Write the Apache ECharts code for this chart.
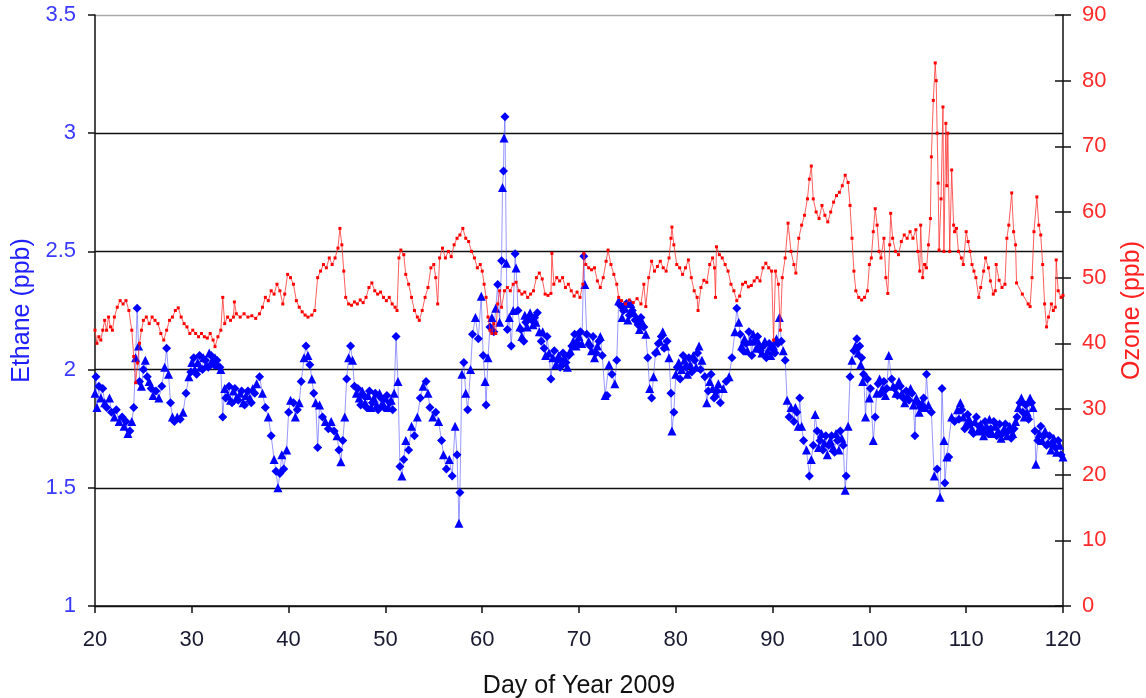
<!DOCTYPE html>
<html>
<head>
<meta charset="utf-8">
<script src="https://cdn.jsdelivr.net/npm/echarts@6/dist/echarts.min.js"></script>
<style>html,body{margin:0;padding:0;background:#fff}#c{width:1146px;height:698px}</style>
</head>
<body>
<div id="c"></div>
<script>
const xTicks = {min: 20, max: 120, interval: 10};
const ethaneTicks = {min: 1, max: 3.5, interval: 0.5};
const ozoneTicks = {min: 0, max: 90, interval: 10};

const ethane = [
[20.0,1.90],[20.1,1.97],[20.2,1.84],[20.4,1.93],[20.6,1.88],[20.8,1.92],[21.0,1.86],[21.2,1.84],[21.5,1.88],[21.7,1.82],
[22.0,1.80],[22.2,1.83],[22.5,1.78],[22.8,1.80],[23.0,1.76],[23.2,1.78],[23.4,1.73],[23.6,1.74],[23.8,1.78],[24.0,1.84],
[24.2,2.05],[24.35,2.26],[24.5,2.10],[24.6,1.95],[24.8,1.93],[25.0,2.00],[25.2,2.04],[25.4,1.97],[25.6,1.95],[25.8,1.92],
[26.0,1.89],[26.3,1.91],[26.6,1.88],[26.9,1.93],[27.2,2.01],[27.4,2.09],[27.6,1.98],[27.8,1.86],[28.0,1.80],[28.2,1.78],
[28.5,1.80],[28.8,1.79],[29.1,1.82],[29.4,1.90],[29.7,1.97],[30.0,2.03],[30.3,2.00],[30.6,2.03],[30.9,2.01],[31.2,2.05],
[31.5,2.02],[31.8,2.07],[32.1,2.04],[32.4,2.05],[32.7,2.02],[33.0,2.00],[33.2,1.80],[33.4,1.92],[33.7,1.89],[34.0,1.87],
[34.3,1.91],[34.6,1.88],[35.0,1.90],[35.3,1.86],[35.6,1.89],[36.0,1.88],[36.3,1.92],[36.7,1.94],[37.0,1.97],[37.3,1.90],
[37.6,1.84],[37.9,1.80],[38.2,1.72],[38.5,1.62],[38.7,1.57],[38.9,1.50],[39.1,1.56],[39.3,1.64],[39.5,1.58],[39.8,1.66],
[40.0,1.82],[40.2,1.87],[40.5,1.86],[40.7,1.80],[40.9,1.83],[41.1,1.86],[41.3,1.95],[41.6,2.05],[41.8,2.10],[42.0,2.06],
[42.2,2.02],[42.4,1.96],[42.6,1.90],[42.8,1.86],[43.0,1.67],[43.2,1.85],[43.5,1.80],[43.8,1.78],[44.1,1.75],[44.4,1.78],
[44.7,1.74],[45.0,1.72],[45.2,1.66],[45.4,1.61],[45.6,1.70],[45.8,1.80],[46.0,1.96],[46.2,2.05],[46.4,2.10],[46.6,2.04],
[46.8,1.93],[47.0,1.90],[47.3,1.88],[47.6,1.91],[47.9,1.86],[48.2,1.89],[48.5,1.84],[48.8,1.88],[49.1,1.85],[49.4,1.90],
[49.7,1.86],[50.0,1.88],[50.3,1.84],[50.6,1.87],[50.9,1.90],[51.1,2.14],[51.3,1.95],[51.5,1.59],[51.7,1.55],[51.9,1.62],
[52.1,1.70],[52.4,1.66],[52.7,1.76],[53.0,1.72],[53.3,1.80],[53.6,1.88],[53.9,1.93],[54.2,1.95],[54.4,1.90],[54.6,1.84],
[54.9,1.80],[55.2,1.82],[55.5,1.78],[55.8,1.70],[56.0,1.64],[56.3,1.58],[56.6,1.62],[56.9,1.55],[57.2,1.76],[57.4,1.64],
[57.6,1.35],[57.7,1.48],[57.9,1.98],[58.1,2.03],[58.3,1.90],[58.5,1.83],[58.8,2.00],[59.0,2.15],[59.3,2.22],[59.6,2.13],
[59.9,2.31],[60.1,2.06],[60.3,1.95],[60.4,1.85],[60.6,2.05],[60.8,2.18],[61.0,2.22],[61.2,2.16],[61.4,2.26],[61.6,2.36],
[61.8,2.20],[62.0,2.46],[62.1,2.77],[62.2,2.84],[62.25,2.98],[62.35,3.07],[62.5,2.45],[62.6,2.17],[62.8,2.22],[63.0,2.10],
[63.2,2.25],[63.4,2.49],[63.5,2.43],[63.7,2.25],[63.9,2.18],[64.1,2.14],[64.3,2.12],[64.5,2.20],[64.8,2.22],[65.1,2.21],
[65.4,2.22],[65.7,2.24],[65.9,2.16],[66.1,2.12],[66.4,2.09],[66.7,2.14],[66.9,2.07],[67.1,1.96],[67.3,2.05],[67.6,2.02],
[67.9,2.06],[68.2,2.03],[68.5,2.05],[68.8,2.01],[69.1,2.08],[69.4,2.12],[69.7,2.10],[70.0,2.14],[70.3,2.11],[70.5,2.48],
[70.6,2.36],[70.8,2.15],[71.0,2.12],[71.3,2.08],[71.6,2.05],[71.9,2.10],[72.2,2.14],[72.4,2.06],[72.7,1.89],[72.9,1.89],
[73.1,2.02],[73.4,1.98],[73.7,1.94],[73.9,2.04],[74.1,2.29],[74.3,2.27],[74.6,2.25],[74.9,2.28],[75.2,2.23],[75.5,2.25],
[75.8,2.21],[76.1,2.19],[76.4,2.22],[76.7,2.18],[76.9,2.15],[77.1,2.05],[77.3,1.92],[77.5,1.88],[77.7,1.97],[77.9,2.07],
[78.2,2.11],[78.5,2.14],[78.8,2.09],[79.1,2.12],[79.3,2.05],[79.5,1.90],[79.6,1.74],[79.8,1.82],[80.0,1.98],[80.3,2.03],
[80.6,2.00],[80.9,2.04],[81.2,1.98],[81.5,2.02],[81.8,2.06],[82.1,2.01],[82.4,2.10],[82.7,2.04],[83.0,1.97],[83.2,1.86],
[83.5,1.95],[83.8,1.92],[84.1,1.90],[84.4,1.94],[84.6,1.86],[84.9,1.92],[85.2,1.95],[85.5,1.97],[85.8,2.05],[86.1,2.16],
[86.3,2.26],[86.5,2.20],[86.8,2.10],[87.1,2.13],[87.4,2.08],[87.7,2.12],[88.0,2.15],[88.3,2.09],[88.6,2.11],[88.9,2.07],
[89.2,2.12],[89.5,2.08],[89.8,2.06],[90.1,2.10],[90.4,2.13],[90.7,2.22],[90.9,2.12],[91.1,2.08],[91.3,2.04],[91.5,1.87],
[91.7,1.80],[91.9,1.84],[92.2,1.78],[92.5,1.82],[92.8,1.88],[93.0,1.76],[93.2,1.70],[93.5,1.66],[93.8,1.55],[94.0,1.62],
[94.2,1.68],[94.4,1.81],[94.6,1.74],[94.9,1.70],[95.2,1.66],[95.5,1.72],[95.8,1.68],[96.1,1.72],[96.4,1.65],[96.7,1.70],
[97.0,1.74],[97.3,1.68],[97.5,1.49],[97.6,1.55],[97.8,1.76],[98.0,1.97],[98.2,2.04],[98.4,2.08],[98.7,2.13],[99.0,2.10],
[99.2,2.05],[99.4,1.98],[99.6,1.80],[99.8,1.96],[100.1,1.92],[100.4,1.70],[100.6,1.80],[100.9,1.94],[101.2,1.90],[101.5,1.95],
[101.8,1.92],[102.0,2.06],[102.3,1.96],[102.6,1.92],[102.9,1.89],[103.2,1.93],[103.5,1.88],[103.8,1.91],[104.1,1.87],[104.4,1.90],
[104.7,1.72],[105.0,1.86],[105.3,1.84],[105.6,1.88],[105.9,1.98],[106.1,1.85],[106.4,1.82],[106.7,1.55],[107.0,1.58],[107.3,1.46],
[107.5,1.92],[107.7,1.70],[107.8,1.52],[108.0,1.63],[108.2,1.63],[108.5,1.80],[108.8,1.78],[109.1,1.83],[109.4,1.86],[109.7,1.80],
[110.0,1.77],[110.3,1.79],[110.6,1.75],[110.9,1.78],[111.2,1.74],[111.5,1.77],[111.8,1.72],[112.1,1.76],[112.4,1.79],[112.7,1.73],
[113.0,1.76],[113.3,1.74],[113.6,1.71],[113.9,1.75],[114.2,1.72],[114.5,1.76],[114.8,1.73],[115.1,1.78],[115.4,1.84],[115.7,1.88],
[116.0,1.80],[116.3,1.82],[116.6,1.88],[116.9,1.84],[117.1,1.74],[117.2,1.60],[117.4,1.70],[117.7,1.76],[118.0,1.72],[118.3,1.68],
[118.6,1.72],[118.9,1.69],[119.2,1.67],[119.5,1.70],[119.8,1.64],[120.0,1.63]
];

const ethaneExtra = [
[29.9,1.99],[30.2,2.05],[30.5,1.98],[30.8,2.06],[31.1,2.00],[31.4,2.04],[31.7,2.01],[32.0,2.06],[32.3,2.02],[32.6,2.04],[32.9,2.01],
[33.5,1.88],[33.85,1.93],[34.15,1.86],[34.45,1.92],[34.8,1.87],[35.15,1.91],[35.45,1.85],[35.8,1.91],[36.15,1.86],[36.5,1.90],
[47.15,1.92],[47.45,1.85],[47.75,1.89],[48.05,1.84],[48.35,1.91],[48.65,1.86],[48.95,1.90],[49.25,1.83],[49.55,1.88],[49.85,1.84],
[50.15,1.89],[50.45,1.86],[50.75,1.83],
[64.0,2.17],[64.4,2.23],[64.65,2.18],[64.95,2.24],[65.25,2.19],[65.55,2.20],[66.25,2.16],[66.55,2.06],[67.45,2.08],[67.75,2.04],
[68.05,2.01],[68.35,2.07],[68.65,2.03],[68.95,2.06],[69.25,2.10],[69.55,2.15],[69.85,2.11],[70.15,2.16],
[71.15,2.10],[71.45,2.14],[71.75,2.07],[72.05,2.12],
[74.45,2.22],[74.75,2.26],[75.05,2.21],[75.35,2.28],[75.65,2.24],[75.95,2.22],[76.25,2.17],[76.55,2.20],
[78.05,2.08],[78.35,2.12],[78.65,2.16],[78.95,2.10],
[80.15,2.01],[80.45,1.96],[80.75,2.06],[81.05,2.01],[81.35,2.05],[81.65,1.99],[81.95,2.04],[82.25,2.07],[82.55,2.00],
[83.35,1.91],[83.65,1.98],[83.95,1.88],[84.25,1.91],
[86.65,2.15],[86.95,2.08],[87.25,2.11],[87.55,2.16],[87.85,2.06],[88.15,2.12],[88.45,2.14],[88.75,2.08],[89.05,2.10],[89.35,2.05],
[89.65,2.11],[89.95,2.09],[90.25,2.07],[90.55,2.11],
[92.35,1.84],[92.65,1.76],[94.75,1.67],[95.05,1.73],[95.35,1.69],[95.65,1.64],[95.95,1.70],[96.25,1.67],[96.55,1.73],[96.85,1.66],[97.15,1.71],
[98.55,2.10],[98.85,2.07],[99.1,2.02],[99.3,1.95],[100.0,1.88],[100.75,1.90],[101.05,1.96],[101.35,1.92],[101.65,1.89],
[102.45,1.93],[102.75,1.90],[103.05,1.95],[103.35,1.90],[103.65,1.86],[103.95,1.89],[104.25,1.92],[104.55,1.85],[104.85,1.88],
[105.15,1.82],[105.45,1.86],[105.75,1.84],
[109.25,1.79],[109.55,1.83],[109.85,1.75],[110.15,1.81],[110.45,1.77],[110.75,1.73],[111.05,1.80],[111.35,1.76],[111.65,1.74],
[111.95,1.78],[112.25,1.73],[112.55,1.75],[112.85,1.78],[113.15,1.72],[113.45,1.77],[113.75,1.73],[114.05,1.77],[114.35,1.74],
[114.65,1.71],[114.95,1.75],
[115.25,1.80],[115.55,1.86],[115.85,1.82],[116.15,1.85],[116.45,1.79],[116.75,1.86],[117.55,1.73],[117.85,1.70],[118.15,1.74],
[118.45,1.69],[118.75,1.66],[119.05,1.71],[119.35,1.65],[119.65,1.68]
];

const ozone = [
[20.0,42],[20.2,40],[20.4,41],[20.6,40.5],[20.8,42],[21.0,43.5],[21.2,42],[21.4,44],[21.6,42.5],[21.8,42],
[22.0,44],[22.3,45.5],[22.6,46.5],[22.9,46],[23.2,46.5],[23.5,45],[23.8,42],[24.0,38],[24.2,34],[24.4,37],
[24.6,40],[24.8,42],[25.0,43.5],[25.3,44],[25.6,43],[25.9,44],[26.2,43.5],[26.5,43],[26.8,41.5],[27.1,40.5],
[27.4,42],[27.7,43.5],[28.0,44],[28.3,45],[28.6,45.4],[28.9,44],[29.2,43],[29.5,42.5],[29.8,41.5],[30.1,42],
[30.4,41.5],[30.7,41],[31.0,41.5],[31.3,41],[31.6,40.8],[31.9,41.5],[32.2,40.5],[32.4,39.5],[32.7,41],[33.0,42],
[33.2,47],[33.4,43],[33.7,44],[34.0,43.5],[34.3,44],[34.4,46.3],[34.6,44.5],[35.0,44],[35.4,44.5],[35.8,44],
[36.2,44.2],[36.6,43.8],[37.0,44.5],[37.3,45.5],[37.6,47],[37.9,46.5],[38.2,48],[38.5,47.5],[38.8,49],[39.1,48],
[39.4,46],[39.6,47.5],[39.9,50.5],[40.2,50],[40.5,49],[40.8,46.5],[41.1,45.5],[41.4,44.8],[41.7,44.3],[42.0,44],
[42.4,44.3],[42.7,45],[43.0,50],[43.3,51],[43.6,52],[43.9,51.5],[44.2,53],[44.5,52],[44.8,53],[45.1,54.5],
[45.3,57.5],[45.5,55],[45.7,51],[45.9,47],[46.2,46],[46.5,45.8],[46.8,46.3],[47.1,46],[47.4,46.6],[47.7,46.2],
[48.0,47],[48.3,48.5],[48.6,49.2],[48.9,48],[49.2,47.5],[49.5,47.8],[49.8,47],[50.1,46.5],[50.4,47],[50.7,46],
[51.0,45.5],[51.2,45],[51.4,53],[51.6,54.2],[51.9,53.5],[52.1,50.5],[52.4,49],[52.7,47],[53.0,45],[53.3,44],
[53.5,43.5],[53.8,45],[54.1,47],[54.4,48.5],[54.7,51.5],[55.0,52],[55.2,50],[55.4,46],[55.6,53],[55.9,54.5],
[56.2,53],[56.5,54],[56.8,53.2],[57.1,55],[57.4,56],[57.7,56.5],[58.0,57.5],[58.3,56],[58.6,55.5],[58.9,54],
[59.2,53],[59.5,51.5],[59.8,52],[60.0,51],[60.2,49],[60.4,47],[60.6,44],[60.8,42],[61.0,41.5],[61.2,43],
[61.4,41.5],[61.6,46],[61.8,48],[62.0,45.5],[62.3,48],[62.6,48.5],[62.9,48],[63.2,49],[63.5,49.3],[63.8,48],
[64.1,47.5],[64.4,47.8],[64.7,47],[65.0,47.5],[65.3,48],[65.6,50],[65.9,50.7],[66.2,49.8],[66.5,47.5],[66.8,47.3],
[67.1,47.6],[67.2,53.7],[67.4,49],[67.7,50],[68.0,49.5],[68.3,50],[68.6,48.5],[68.9,49],[69.2,48],[69.5,47.2],
[69.8,47.8],[70.1,47],[70.4,49],[70.5,53.7],[70.7,52],[71.0,51.5],[71.3,51.2],[71.6,51.5],[71.9,49.5],[72.2,48.5],
[72.5,50],[72.8,52.5],[73.0,54.2],[73.3,52],[73.6,50.5],[73.9,49],[74.1,47],[74.4,46.5],[74.8,46],[75.2,46.6],
[75.6,46.2],[76.0,46.8],[76.4,46],[76.7,49],[76.9,45.6],[77.2,50],[77.5,52.5],[77.8,51],[78.1,51.7],[78.4,52.5],
[78.7,51.5],[79.0,51],[79.3,53],[79.5,56],[79.6,57.7],[79.8,55],[80.1,52],[80.4,51.5],[80.7,50.5],[81.0,51.5],
[81.3,52.7],[81.6,50],[81.9,48],[82.2,47],[82.3,45],[82.6,48.5],[82.9,49.6],[83.2,49.3],[83.5,52],[83.8,53],
[84.0,51.5],[84.1,47],[84.2,54.7],[84.5,53.5],[84.8,53],[85.1,52],[85.4,51],[85.7,49],[86.0,48],[86.3,46.5],
[86.6,47.2],[86.9,49],[87.2,49.3],[87.5,48.6],[87.8,48.8],[88.1,49.5],[88.4,50],[88.7,49.5],[89.0,51.5],[89.3,52.2],
[89.6,51.5],[89.9,51],[90.1,40.5],[90.3,51],[90.6,49],[90.8,42],[91.0,50],[91.3,53],[91.6,58.3],[91.9,54],
[92.2,52],[92.4,50.7],[92.7,56],[93.0,58],[93.3,59.5],[93.6,62],[93.8,65],[94.0,67],[94.2,62],[94.5,60],
[94.8,59],[95.1,61],[95.4,59.5],[95.7,58.5],[96.0,60],[96.3,61.5],[96.6,62.5],[96.9,63],[97.2,64],[97.5,65.6],
[97.8,64.5],[98.0,61],[98.2,56],[98.4,51],[98.6,48],[98.9,47],[99.2,46.6],[99.5,47],[99.8,48],[100.0,52],
[100.2,53],[100.4,57],[100.6,60.5],[100.8,58],[101.0,54],[101.2,53],[101.5,56],[101.7,50],[101.9,47.6],[102.1,55],
[102.2,59.8],[102.4,56],[102.7,54],[103.0,53.5],[103.3,55.5],[103.6,56.5],[103.9,56],[104.2,57],[104.5,56],[104.8,57.3],
[105.0,54],[105.2,51],[105.3,58],[105.5,50],[105.7,52],[105.9,51.5],[106.1,55],[106.3,59],[106.4,68.4],[106.6,77],
[106.8,82.7],[106.9,80],[107.0,72],[107.1,64.4],[107.2,54.2],[107.4,62],[107.6,76],[107.7,54],[107.9,73.5],[108.0,64],
[108.1,72],[108.3,54],[108.5,66.4],[108.7,58],[108.8,57],[109.0,57.5],[109.2,54],[109.5,53],[109.7,52],[110.0,57],
[110.2,55.5],[110.4,54],[110.6,52],[110.8,51],[111.0,50],[111.3,47],[111.5,48.5],[111.8,51],[112.0,53],[112.3,51.5],
[112.5,49.5],[112.8,47.5],[113.0,48],[113.1,52],[113.4,49.6],[113.7,48.5],[114.0,49],[114.2,56],[114.4,58],[114.7,62.9],
[114.9,57],[115.1,55],[115.2,49.2],[115.8,47.5],[116.4,46],[116.6,45.6],[116.8,50],[117.0,57],[117.3,62.3],[117.5,58],
[117.7,56.5],[117.9,52],[118.1,46],[118.3,42.5],[118.5,44],[118.8,46],[119.0,45],[119.2,45.5],[119.3,52.7],[119.5,48],
[119.8,47],[120.0,47.3]
];

const ethaneAll = ethane.concat(ethaneExtra).sort(function (a, b) { return a[0] - b[0]; });

const FONT = '"Liberation Sans", Arial, sans-serif';
const chart = echarts.init(document.getElementById('c'), null, {renderer: 'canvas'});
chart.setOption({
  animation: false,
  backgroundColor: '#ffffff',
  grid: {left: 95, right: 83, top: 15, bottom: 92, containLabel: false, outerBoundsMode: 'none'},
  xAxis: {
    type: 'value', min: xTicks.min, max: xTicks.max, interval: xTicks.interval,
    name: 'Day of Year 2009', nameLocation: 'middle', nameGap: 68,
    nameTextStyle: {color: '#111111', fontSize: 25, fontFamily: FONT},
    axisLine: {show: true, onZero: false, lineStyle: {color: '#111111', width: 1.5}},
    axisTick: {show: true, inside: false, length: 7, lineStyle: {color: '#111111', width: 1.5}},
    axisLabel: {color: '#1a1a33', fontSize: 22, fontFamily: FONT, margin: 23},
    splitLine: {show: false}
  },
  yAxis: [
    {
      type: 'value', position: 'left', min: ethaneTicks.min, max: ethaneTicks.max, interval: ethaneTicks.interval,
      name: 'Ethane (ppb)', nameLocation: 'middle', nameGap: 60,
      nameTextStyle: {color: '#2020ff', fontSize: 25, fontFamily: FONT},
      axisLine: {show: true, lineStyle: {color: '#111111', width: 1.5}},
      axisTick: {show: true, inside: false, length: 7, lineStyle: {color: '#111111', width: 1.5}},
      axisLabel: {color: '#3a3aff', fontSize: 22, fontFamily: FONT, margin: 19},
      splitLine: {show: true, lineStyle: {color: ['#111111','#111111','#111111','#111111','#111111','#aaaaaa'], width: 1.3}}
    },
    {
      type: 'value', position: 'right', min: ozoneTicks.min, max: ozoneTicks.max, interval: ozoneTicks.interval,
      name: 'Ozone (ppb)', nameLocation: 'middle', nameGap: 57, nameRotate: 90,
      nameTextStyle: {color: '#ff2020', fontSize: 25, fontFamily: FONT},
      axisLine: {show: true, lineStyle: {color: '#111111', width: 1.5}},
      axisTick: {show: true, inside: false, length: 8, lineStyle: {color: '#111111', width: 1.5}},
      axisLabel: {color: '#ff2a2a', fontSize: 22, fontFamily: FONT, margin: 19},
      splitLine: {show: false}
    },
    {
      type: 'value', position: 'right', min: ozoneTicks.min, max: ozoneTicks.max, interval: ozoneTicks.interval,
      axisLine: {show: false},
      axisTick: {show: true, inside: true, length: 8, lineStyle: {color: '#111111', width: 1.5}},
      axisLabel: {show: false},
      splitLine: {show: false}
    }
  ],
  series: [
    {
      name: 'Ethane', type: 'line', yAxisIndex: 0, data: ethaneAll,
      symbol: function (v, p) { return p.dataIndex % 2 === 0 ? 'triangle' : 'diamond'; },
      symbolSize: 9, showAllSymbol: true,
      itemStyle: {color: '#0000ff'},
      lineStyle: {color: 'rgba(70,70,255,0.55)', width: 1},
      z: 2
    },
    {
      name: 'Ozone', type: 'line', yAxisIndex: 1, data: ozone,
      symbol: 'rect', symbolSize: 3, showAllSymbol: true,
      itemStyle: {color: '#ff0000'},
      lineStyle: {color: 'rgba(255,40,40,0.75)', width: 1},
      z: 3
    }
  ]
});
</script>
</body>
</html>
